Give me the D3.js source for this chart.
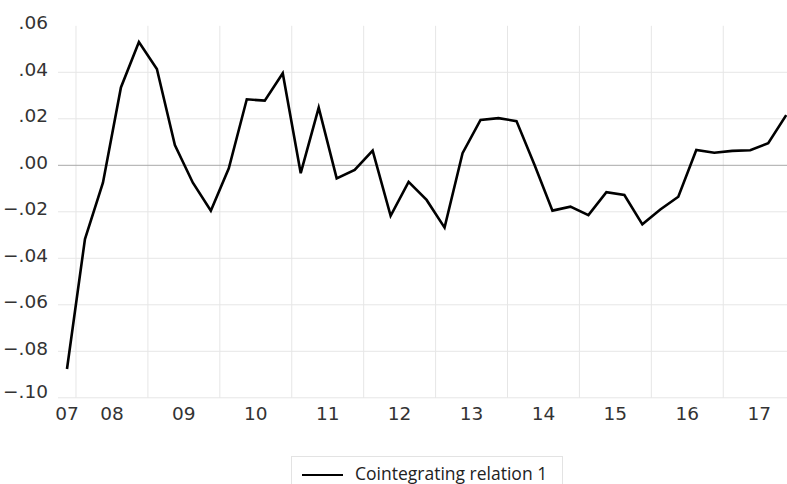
<!DOCTYPE html>
<html>
<head>
<meta charset="utf-8">
<script src="https://cdn.jsdelivr.net/npm/d3@7"></script>
<style>
  body { margin: 0; background: #fff; }
  svg { display: block; }
</style>
</head>
<body>
<div id="chart"></div>
<script>
// quarterly observations, 2007Q4 .. 2017Q4
const quarters = [
  "2007Q4",
  "2008Q1", "2008Q2", "2008Q3", "2008Q4",
  "2009Q1", "2009Q2", "2009Q3", "2009Q4",
  "2010Q1", "2010Q2", "2010Q3", "2010Q4",
  "2011Q1", "2011Q2", "2011Q3", "2011Q4",
  "2012Q1", "2012Q2", "2012Q3", "2012Q4",
  "2013Q1", "2013Q2", "2013Q3", "2013Q4",
  "2014Q1", "2014Q2", "2014Q3", "2014Q4",
  "2015Q1", "2015Q2", "2015Q3", "2015Q4",
  "2016Q1", "2016Q2", "2016Q3", "2016Q4",
  "2017Q1", "2017Q2", "2017Q3", "2017Q4"
];

const coint1 = [
  -0.0876,
  -0.0317, -0.0075, 0.0335, 0.0530,
  0.0414, 0.0087, -0.0075, -0.0195,
  -0.0013, 0.0284, 0.0278, 0.0396,
  -0.0034, 0.0248, -0.0056, -0.0020,
  0.0063, -0.0217, -0.0071, -0.0149,
  -0.0268, 0.0052, 0.0195, 0.0203,
  0.0190, 0.0002, -0.0195, -0.0178,
  -0.0214, -0.0116, -0.0128, -0.0254,
  -0.0190, -0.0135, 0.0066, 0.0054,
  0.0062, 0.0065, 0.0095, 0.0216
];

const yearLabels = ["07", "08", "09", "10", "11", "12", "13", "14", "15", "16", "17"];
const yTicks = [0.06, 0.04, 0.02, 0.00, -0.02, -0.04, -0.06, -0.08, -0.10];
const seriesName = "Cointegrating relation 1";

const width = 787, height = 484;
const plot = { left: 58, top: 25.8, bottom: 397.8 };

const svg = d3.select('#chart').append('svg')
    .attr('width', width)
    .attr('height', height);

const x = d3.scaleLinear()
    .domain([-0.5, quarters.length - 0.5])
    .range([plot.left, plot.left + quarters.length * 17.98]);

const y = d3.scaleLinear()
    .domain([-0.10, 0.06])
    .range([plot.bottom, plot.top]);

// year boundaries and centres from the quarter labels
const years = d3.groups(quarters.map((q, i) => ({ yr: q.slice(2, 4), i })), d => d.yr);
const boundaries = years.slice(1).map(([, qs]) => qs[0].i - 0.5);

const grid = svg.append('g');

grid.selectAll('.hgrid')
    .data(yTicks.filter(d => d !== 0.06 && d !== 0))
    .join('line')
    .attr('x1', plot.left)
    .attr('x2', width)
    .attr('y1', d => y(d))
    .attr('y2', d => y(d))
    .attr('stroke', '#e6e6e6')
    .attr('stroke-width', 1);

grid.selectAll('.vgrid')
    .data(boundaries)
    .join('line')
    .attr('x1', d => x(d))
    .attr('x2', d => x(d))
    .attr('y1', plot.top)
    .attr('y2', plot.bottom)
    .attr('stroke', '#e6e6e6')
    .attr('stroke-width', 1);

svg.append('line')
    .attr('x1', plot.left)
    .attr('x2', width)
    .attr('y1', y(0))
    .attr('y2', y(0))
    .attr('stroke', '#a8a8a8')
    .attr('stroke-width', 1);

// y tick labels
svg.append('g')
    .selectAll('text')
    .data(yTicks)
    .join('text')
    .attr('x', 48)
    .attr('y', d => y(d) - (d === -0.10 ? 6 : 3))
    .attr('dy', '0.35em')
    .attr('text-anchor', 'end')
    .attr('font-family', 'DejaVu Sans, sans-serif')
    .attr('font-size', 18.5)
    .attr('fill', '#333')
    .text(d => d3.format('.2f')(d).replace('0.', '.'));

// x tick labels at year centres
svg.append('g')
    .selectAll('text')
    .data(years)
    .join('text')
    .attr('x', ([yr, qs]) => {
        const c = d3.mean(qs, d => d.i);
        return Math.max(x(c), plot.left + 2);
    })
    .attr('y', 420)
    .attr('text-anchor', 'middle')
    .attr('font-family', 'DejaVu Sans, sans-serif')
    .attr('font-size', 18.5)
    .attr('fill', '#333')
    .text(([yr]) => yearLabels.includes(yr) ? yr : '');

const line = d3.line()
    .x((d, i) => x(i))
    .y(d => y(d));

svg.append('path')
    .datum(coint1)
    .attr('fill', 'none')
    .attr('stroke', '#000')
    .attr('stroke-width', 2.6)
    .attr('stroke-linejoin', 'miter')
    .attr('d', line);

// legend
const legend = svg.append('g');
legend.append('rect')
    .attr('x', 291.5)
    .attr('y', 456.5)
    .attr('width', 271)
    .attr('height', 40)
    .attr('fill', '#fff')
    .attr('stroke', '#e3e3e3');
legend.append('line')
    .attr('x1', 302)
    .attr('x2', 343)
    .attr('y1', 475)
    .attr('y2', 475)
    .attr('stroke', '#000')
    .attr('stroke-width', 2.2);
legend.append('text')
    .attr('x', 355)
    .attr('y', 480)
    .attr('font-family', 'Open Sans, sans-serif')
    .attr('font-size', 17.5)
    .attr('fill', '#222')
    .text(seriesName);
</script>
</body>
</html>
